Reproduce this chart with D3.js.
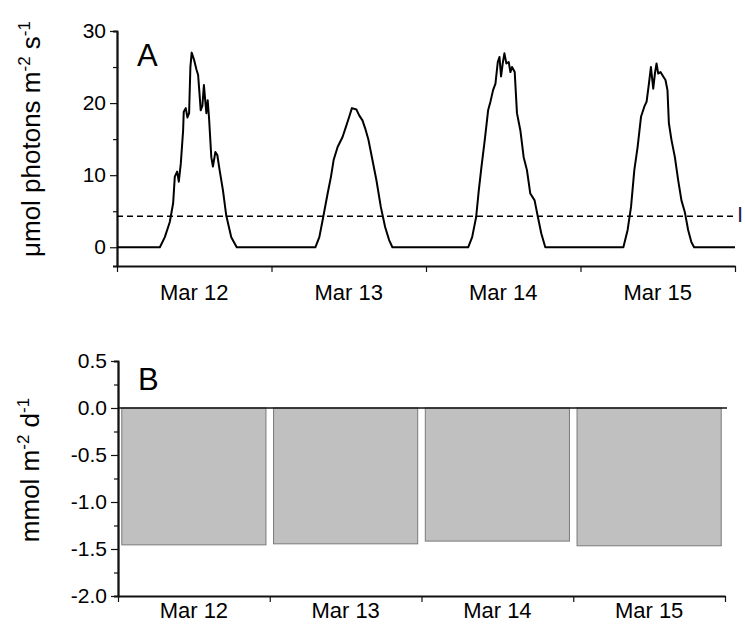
<!DOCTYPE html>
<html>
<head>
<meta charset="utf-8">
<script src="https://cdn.jsdelivr.net/npm/d3@7"></script>
<style>
  body { margin: 0; background: #fff; }
  text { font-family: Arial, "Liberation Sans", sans-serif; }
</style>
</head>
<body>
<svg width="745" height="624"></svg>
<script>
// day labels
const days = ['Mar 12', 'Mar 13', 'Mar 14', 'Mar 15']

// PAR, hours of each day and umol photons m-2 s-1
const hours12 = [0, 6.66, 7.43, 8.20, 8.72, 8.98, 9.34, 9.60, 9.91, 10.27, 10.37, 10.68, 10.94, 11.2, 11.4, 11.6, 11.97, 12.33, 12.6, 12.85, 13.0, 13.26, 13.5, 13.72, 13.88, 14.09, 14.3, 14.65, 14.9, 15.28, 15.58, 15.94, 16.46, 16.97, 17.75, 18.6, 24]
const par12 = [0, 0, 1.4, 3.5, 6.1, 9.8, 10.5, 9.1, 11.6, 16.2, 18.8, 19.3, 18.0, 18.6, 25.0, 27.0, 26.0, 24.7, 23.9, 20.9, 19.0, 19.6, 22.5, 20.2, 18.6, 20.4, 17.9, 12.5, 11.2, 13.2, 12.8, 10.7, 7.9, 4.4, 1.4, 0, 0]

const hours13 = [0, 6.81, 7.43, 7.94, 8.72, 9.24, 9.65, 10.27, 11.04, 11.56, 12.07, 12.49, 13.2, 13.62, 14.13, 14.55, 15.06, 15.68, 16.3, 16.98, 17.65, 18.27, 18.78, 24]
const par13 = [0, 0, 1.4, 3.75, 7.45, 9.8, 12.1, 13.9, 15.3, 16.7, 18.1, 19.3, 19.1, 18.3, 17.6, 16.5, 14.9, 12.1, 9.3, 5.6, 2.8, 1.0, 0, 0]

const hours14 = [0, 6.55, 7.17, 7.79, 8.2, 8.62, 9.13, 9.65, 10.01, 10.42, 10.79, 11.15, 11.41, 11.66, 11.92, 12.18, 12.49, 12.85, 13.11, 13.36, 13.78, 14.13, 14.66, 15.17, 15.68, 16.2, 16.87, 17.38, 17.91, 18.53, 24]
const par14 = [0, 0, 1.4, 4.2, 7.9, 11.2, 14.9, 19.0, 20.2, 21.8, 22.7, 25.7, 26.4, 23.7, 25.5, 26.9, 25.5, 25.7, 24.3, 25.0, 24.3, 18.6, 16.2, 12.5, 10.7, 7.45, 6.5, 4.2, 1.9, 0, 0]

const hours15 = [0, 6.66, 7.32, 7.85, 8.36, 8.87, 9.4, 9.91, 10.27, 10.63, 10.94, 11.3, 11.56, 11.81, 12.07, 12.43, 12.85, 13.2, 13.51, 13.73, 14.13, 14.66, 15.17, 15.68, 16.2, 16.72, 17.23, 17.65, 24]
const par15 = [0, 0, 2.4, 5.6, 10.7, 13.9, 18.1, 19.5, 20.2, 22.7, 25.0, 22.0, 24.1, 25.5, 24.1, 24.3, 23.7, 23.2, 21.8, 17.2, 14.9, 12.5, 9.3, 6.5, 4.9, 2.4, 0.7, 0, 0]

// Ik threshold
const ikValue = 4.3

// daily flux, mmol m-2 d-1
const flux = [-1.456, -1.445, -1.416, -1.466]

// tick values
const ticksA = [0, 10, 20, 30]
const minorA = [5, 15, 25]
const ticksB = [0.5, 0, -0.5, -1, -1.5, -2]
const minorB = [0.25, -0.25, -0.75, -1.25, -1.75]

let start = new Date(2012, 2, 12)
let end = new Date(2012, 2, 16)
let at = (d, h) => new Date(+start + (d * 24 + h) * 3600e3)

let hourSets = [hours12, hours13, hours14, hours15]
let parSets = [par12, par13, par14, par15]
let par = []
hourSets.forEach((hs, d) => {
  hs.forEach((h, i) => par.push({ t: at(d, h), v: parSets[d][i] }))
})

let svg = d3.select('svg')

let styleAxis = g => {
  g.select('.domain').attr('stroke', '#111').attr('stroke-width', 1.8)
  g.selectAll('.tick line').attr('stroke', '#111').attr('stroke-width', 1.2)
  g.selectAll('.tick text').attr('fill', '#000').attr('font-size', 21)
    .attr('font-family', 'Arial, "Liberation Sans", sans-serif')
}

// ---- panel A
let xA = d3.scaleTime().domain([start, end]).range([117, 735])
let yA = d3.scaleLinear().domain([-2.6, 30]).range([266, 31])

svg.append('g')
  .attr('transform', 'translate(117, 0)')
  .call(d3.axisLeft(yA).tickValues(minorA).tickSize(4).tickFormat(''))
  .call(styleAxis)
svg.append('g')
  .attr('transform', 'translate(117, 0)')
  .call(d3.axisLeft(yA).tickValues(ticksA).tickSize(7).tickPadding(4).tickSizeOuter(0))
  .call(styleAxis)

svg.append('g')
  .attr('transform', `translate(0, ${yA(-2.6)})`)
  .call(d3.axisBottom(xA).ticks(d3.timeDay.every(1)).tickSize(6).tickSizeOuter(0).tickFormat(''))
  .call(styleAxis)

svg.append('g')
  .selectAll('text')
  .data(days)
  .enter()
  .append('text')
  .attr('x', (d, i) => xA(at(i, 12)))
  .attr('y', 300)
  .attr('text-anchor', 'middle')
  .attr('font-size', 22)
  .text(d => d)

svg.append('line')
  .attr('x1', xA(start)).attr('x2', xA(end))
  .attr('y1', yA(ikValue)).attr('y2', yA(ikValue))
  .attr('stroke', '#000')
  .attr('stroke-width', 1.4)
  .attr('stroke-dasharray', '6,4')

svg.append('path')
  .datum(par)
  .attr('fill', 'none')
  .attr('stroke', '#000')
  .attr('stroke-width', 2)
  .attr('stroke-linejoin', 'round')
  .attr('d', d3.line().x(d => xA(d.t)).y(d => yA(d.v)))

// only the first letter of the Ik label shows at the edge
svg.append('text')
  .attr('x', 737)
  .attr('y', yA(ikValue) + 6)
  .attr('font-size', 22)
  .attr('fill', '#1c2450')
  .text('I')

svg.append('text')
  .attr('x', 137)
  .attr('y', 66)
  .attr('font-size', 31)
  .text('A')

let labA = svg.append('text')
  .attr('transform', 'translate(40, 139) rotate(-90)')
  .attr('text-anchor', 'middle')
  .attr('font-size', 26)
labA.append('tspan').text('\u03bcmol photons m')
labA.append('tspan').attr('dy', -10).attr('font-size', 17).text('-2')
labA.append('tspan').attr('dy', 10).text(' s')
labA.append('tspan').attr('dy', -10).attr('font-size', 17).text('-1')

// ---- panel B
let xB = d3.scaleTime().domain([start, end]).range([118, 725])
let band = d3.scaleBand().domain(days).range([118, 725]).paddingInner(0.05).paddingOuter(0.025)
let yB = d3.scaleLinear().domain([-2, 0.5]).range([596, 361])

svg.append('g')
  .selectAll('rect')
  .data(flux)
  .enter()
  .append('rect')
  .attr('x', (d, i) => band(days[i]))
  .attr('width', band.bandwidth())
  .attr('y', yB(0))
  .attr('height', d => yB(d) - yB(0))
  .attr('fill', '#c0c0c0')
  .attr('stroke', '#7a7a7a')
  .attr('stroke-width', 1)

svg.append('line')
  .attr('x1', xB(start)).attr('x2', xB(end) + 2)
  .attr('y1', yB(0)).attr('y2', yB(0))
  .attr('stroke', '#111')
  .attr('stroke-width', 1.6)

svg.append('g')
  .attr('transform', 'translate(118, 0)')
  .call(d3.axisLeft(yB).tickValues(minorB).tickSize(4).tickFormat(''))
  .call(styleAxis)
svg.append('g')
  .attr('transform', 'translate(118, 0)')
  .call(d3.axisLeft(yB).tickValues(ticksB).tickSize(7).tickPadding(4).tickSizeOuter(0).tickFormat(d => d.toFixed(1)))
  .call(styleAxis)

svg.append('g')
  .attr('transform', `translate(0, ${yB(-2)})`)
  .call(d3.axisBottom(xB).ticks(d3.timeDay.every(1)).tickSize(6).tickSizeOuter(0).tickFormat(''))
  .call(styleAxis)

svg.append('g')
  .selectAll('text')
  .data(days)
  .enter()
  .append('text')
  .attr('x', d => band(d) + band.bandwidth() / 2)
  .attr('y', 618)
  .attr('text-anchor', 'middle')
  .attr('font-size', 22)
  .text(d => d)

svg.append('text')
  .attr('x', 138)
  .attr('y', 390)
  .attr('font-size', 31)
  .text('B')

let labB = svg.append('text')
  .attr('transform', 'translate(39, 470) rotate(-90)')
  .attr('text-anchor', 'middle')
  .attr('font-size', 26)
labB.append('tspan').text('mmol m')
labB.append('tspan').attr('dy', -10).attr('font-size', 17).text('-2')
labB.append('tspan').attr('dy', 10).text(' d')
labB.append('tspan').attr('dy', -10).attr('font-size', 17).text('-1')
</script>
</body>
</html>
